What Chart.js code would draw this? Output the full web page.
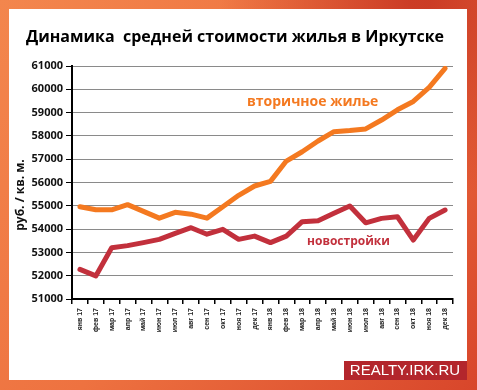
<!DOCTYPE html>
<html>
<head>
<meta charset="utf-8">
<script src="https://cdn.jsdelivr.net/npm/chart.js@4"></script>
<style>
  html, body { margin: 0; padding: 0; background: #fff; }
  #wrap { width: 477px; height: 390px; }
</style>
</head>
<body>
<div id="wrap"><canvas id="chart" width="477" height="390"></canvas></div>
<script>
// месяцы
const months = ['янв 17', 'фев 17', 'мар 17', 'апр 17', 'май 17', 'июн 17', 'июл 17', 'авг 17', 'сен 17', 'окт 17', 'ноя 17', 'дек 17',
                'янв 18', 'фев 18', 'мар 18', 'апр 18', 'май 18', 'июн 18', 'июл 18', 'авг 18', 'сен 18', 'окт 18', 'ноя 18', 'дек 18'];

// вторичное жилье, руб. / кв. м.
const secondary = [54960, 54830, 54830, 55050, 54760, 54470, 54720, 54640, 54470, 54960, 55450, 55850,
                   56050, 56920, 57320, 57780, 58180, 58230, 58300, 58680, 59120, 59480, 60080, 60900];

// новостройки, руб. / кв. м.
const newBuild = [52270, 51990, 53200, 53290, 53420, 53560, 53820, 54060, 53780, 53990, 53560, 53700,
                  53420, 53700, 54320, 54360, 54680, 54990, 54270, 54460, 54530, 53530, 54460, 54820];

const yMin = 51000;
const yMax = 61000;
const yStep = 1000;

const titleText = 'Динамика  средней стоимости жилья в Иркутске';
const yAxisText = 'руб. / кв. м.';
const secondaryName = 'вторичное жилье';
const newBuildName = 'новостройки';
const logoText = 'REALTY.IRK.RU';

const ORANGE = '#f47920';
const RED = '#c2303c';

// фон, рамка, подписи
const decor = {
    id: 'decor',
    beforeDraw(chart) {
        const ctx = chart.ctx;
        ctx.save();
        const g = ctx.createLinearGradient(0, 0, 477, 390);
        g.addColorStop(0, '#f3864d');
        g.addColorStop(0.5, '#ee7240');
        g.addColorStop(1, '#d8462b');
        ctx.fillStyle = g;
        ctx.fillRect(0, 0, 477, 390);
        const g2 = ctx.createRadialGradient(420, 0, 10, 420, 0, 200);
        g2.addColorStop(0, 'rgba(200,55,35,0.9)');
        g2.addColorStop(1, 'rgba(200,55,35,0)');
        ctx.fillStyle = g2;
        ctx.fillRect(0, 0, 477, 390);
        ctx.fillStyle = '#fff';
        ctx.fillRect(9, 9, 458, 371);

        ctx.fillStyle = '#000';
        ctx.font = 'bold 16px "Open Sans"';
        ctx.textBaseline = 'middle';
        ctx.textAlign = 'left';
        ctx.fillText(titleText, 26, 37);

        ctx.translate(21, 195);
        ctx.rotate(-Math.PI / 2);
        ctx.textAlign = 'center';
        ctx.font = 'bold 12px "Open Sans"';
        ctx.fillStyle = '#111';
        ctx.fillText(yAxisText, 0, 0);
        ctx.restore();
    },
    afterDraw(chart) {
        const ctx = chart.ctx;
        ctx.save();
        ctx.textBaseline = 'middle';
        ctx.textAlign = 'left';
        ctx.font = 'bold 14px "Open Sans"';
        ctx.fillStyle = ORANGE;
        ctx.fillText(secondaryName, 247, 102);
        ctx.font = 'bold 12px "Open Sans"';
        ctx.fillStyle = RED;
        ctx.fillText(newBuildName, 307, 242);

        ctx.fillStyle = '#b3262c';
        ctx.fillRect(344, 361, 123, 19);
        ctx.fillStyle = '#fff';
        ctx.font = '15px "Liberation Sans"';
        ctx.textAlign = 'center';
        ctx.fillText(logoText, 405, 371);
        ctx.restore();
    }
};

new Chart(document.getElementById('chart').getContext('2d'), {
    type: 'line',
    data: {
        labels: months,
        datasets: [
            {
                label: secondaryName,
                data: secondary,
                borderColor: ORANGE,
                borderWidth: 5,
                pointRadius: 0,
                tension: 0,
                borderJoinStyle: 'round',
                borderCapStyle: 'round'
            },
            {
                label: newBuildName,
                data: newBuild,
                borderColor: RED,
                borderWidth: 5,
                pointRadius: 0,
                tension: 0,
                borderJoinStyle: 'round',
                borderCapStyle: 'round'
            }
        ]
    },
    options: {
        responsive: false,
        animation: false,
        layout: { padding: { left: 9, right: 24, top: 66, bottom: 0 } },
        plugins: {
            legend: { display: false },
            tooltip: { enabled: false }
        },
        scales: {
            x: {
                offset: true,
                afterFit: s => { s.height = 91; },
                border: { color: '#000', width: 2 },
                grid: { offset: true, drawOnChartArea: false, tickLength: 5, tickColor: '#000', lineWidth: 1.5 },
                ticks: {
                    autoSkip: false,
                    minRotation: 90,
                    maxRotation: 90,
                    padding: 4,
                    color: '#222',
                    font: { family: 'Liberation Sans', size: 7, weight: 'bold' }
                }
            },
            y: {
                min: yMin,
                max: yMax,
                afterFit: s => { s.width = 63; },
                border: { color: '#000', width: 2 },
                grid: { color: '#8a8a8a', lineWidth: 1, tickLength: 6, tickColor: '#000' },
                ticks: {
                    stepSize: yStep,
                    padding: 3,
                    color: '#111',
                    callback: v => String(v),
                    font: { family: 'Open Sans', size: 11, weight: 'bold' }
                }
            }
        }
    },
    plugins: [decor]
});
</script>
</body>
</html>
